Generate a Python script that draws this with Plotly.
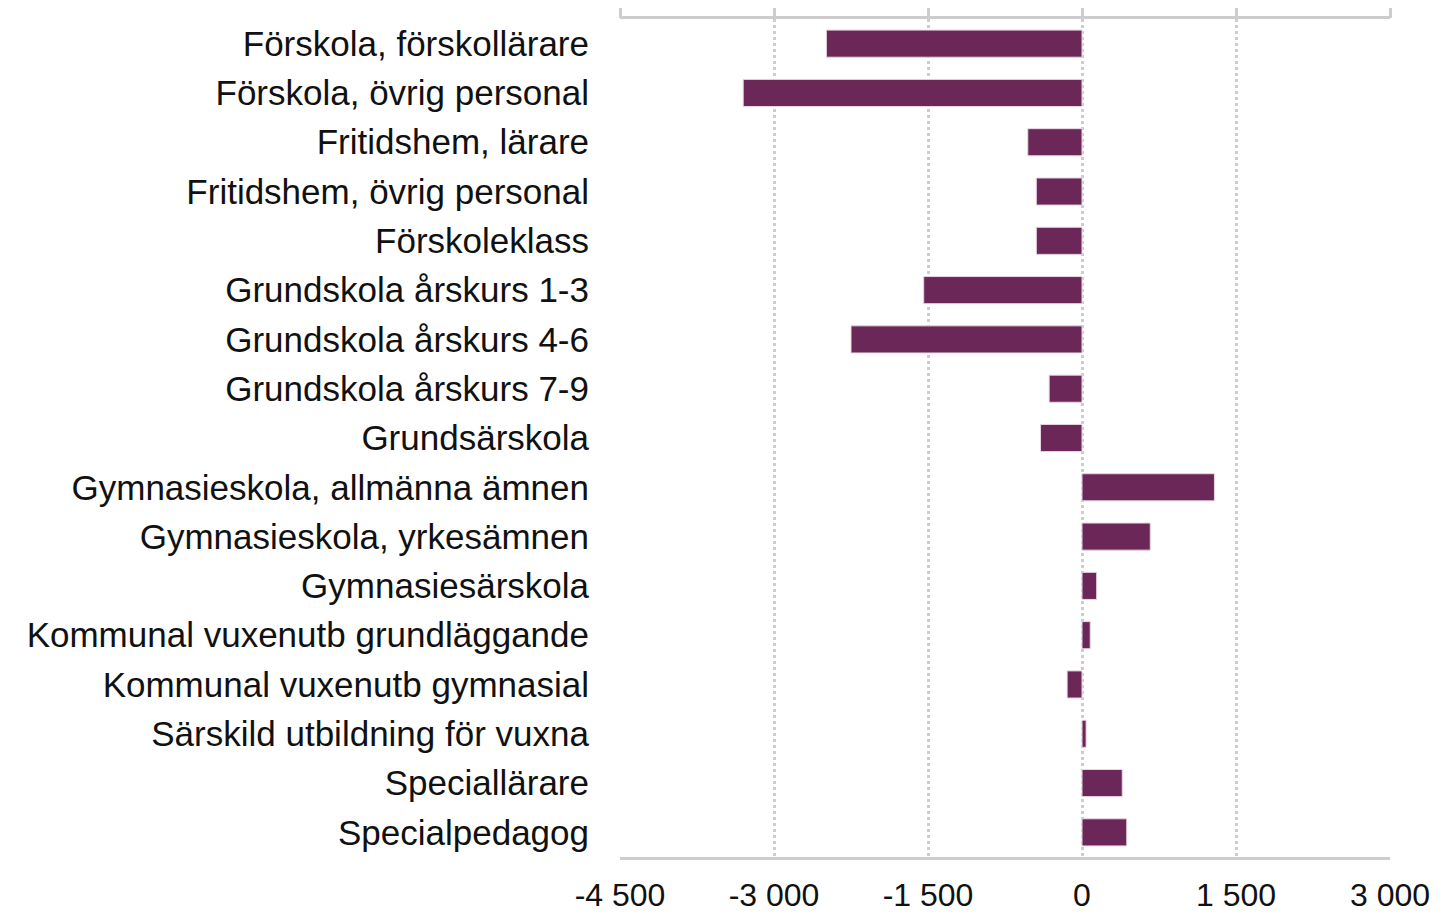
import plotly.graph_objects as go

categories = [
    "Förskola, förskollärare",
    "Förskola, övrig personal",
    "Fritidshem, lärare",
    "Fritidshem, övrig personal",
    "Förskoleklass",
    "Grundskola årskurs 1-3",
    "Grundskola årskurs 4-6",
    "Grundskola årskurs 7-9",
    "Grundsärskola",
    "Gymnasieskola, allmänna ämnen",
    "Gymnasieskola, yrkesämnen",
    "Gymnasiesärskola",
    "Kommunal vuxenutb grundläggande",
    "Kommunal vuxenutb gymnasial",
    "Särskild utbildning för vuxna",
    "Speciallärare",
    "Specialpedagog",
]
values = [-2490, -3300, -528, -445, -445, -1542, -2250, -320, -404,
          1290, 665, 143, 80, -145, 40, 392, 436]

tick_vals = [-4500, -3000, -1500, 0, 1500, 3000]
tick_text = ["-4 500", "-3 000", "-1 500", "0", "1 500", "3 000"]
x_range = [-4500, 3000]

BAR = "#6b2758"
GRID = "#cdcdcd"
FONT = "Liberation Sans, Arial, sans-serif"

fig = go.Figure()
fig.add_trace(go.Bar(
    y=categories, x=values, orientation="h",
    marker=dict(color=BAR, line=dict(color="#e8d6e2", width=1)),
    showlegend=False,
))
# helper invisible trace to draw the top tick extensions
fig.add_trace(go.Scatter(
    x=[None], y=[None], xaxis="x2", yaxis="y",
    mode="markers", showlegend=False, hoverinfo="skip",
))

fig.update_layout(
    width=1445, height=910,
    margin=dict(l=612, r=63, t=11, b=61, autoexpand=False),
    paper_bgcolor="white", plot_bgcolor="white",
    bargap=0.45,
    font=dict(family=FONT, color="#111111"),
    xaxis=dict(
        range=x_range, tickvals=tick_vals, ticktext=tick_text,
        showgrid=True, gridcolor=GRID, gridwidth=3, griddash="dot",
        zeroline=False, showline=True, linecolor=GRID, linewidth=3,
        mirror=True, ticks="outside", ticklen=8, tickcolor="rgba(0,0,0,0)",
        tickfont=dict(size=32, family=FONT, color="#111111"),
        automargin=False,
    ),
    xaxis2=dict(
        range=x_range, tickvals=tick_vals, overlaying="x", side="top",
        showgrid=False, zeroline=False, showline=False,
        ticks="outside", ticklen=10, tickwidth=3, tickcolor=GRID,
        showticklabels=False, automargin=False,
    ),
    yaxis=dict(
        autorange="reversed", showgrid=False, zeroline=False,
        showline=False, ticks="", ticklabelstandoff=30,
        tickfont=dict(size=35, family=FONT, color="#111111"),
        automargin=False,
    ),
)

fig.write_html("out.html")
